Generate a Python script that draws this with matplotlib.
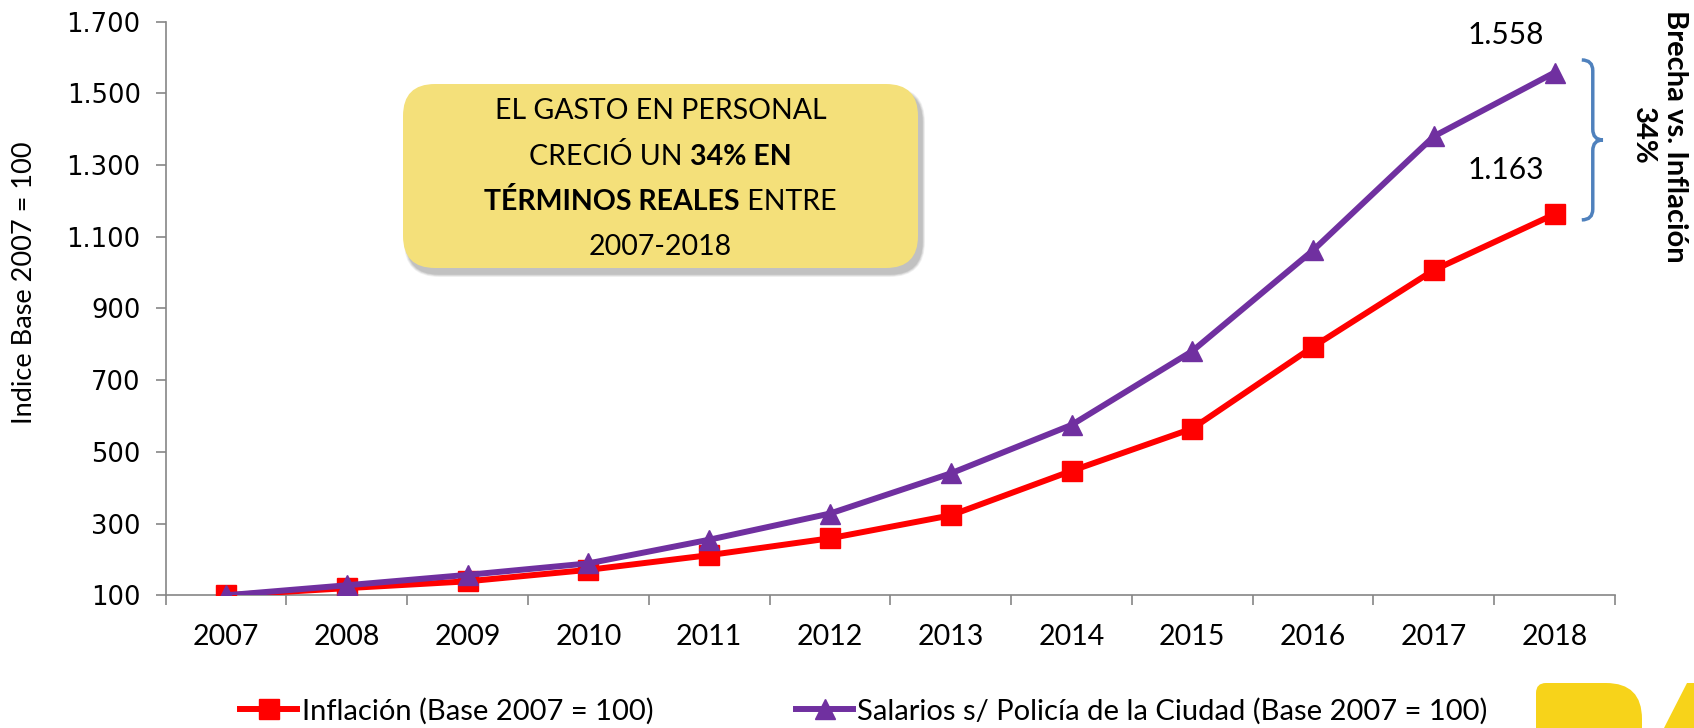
import numpy as np
import matplotlib
matplotlib.use("Agg")
import matplotlib.pyplot as plt
from matplotlib.patches import FancyBboxPatch, PathPatch, Polygon
from matplotlib.path import Path
from matplotlib.lines import Line2D
from matplotlib.transforms import IdentityTransform
from matplotlib.offsetbox import TextArea, HPacker, VPacker, AnnotationBbox
from matplotlib.ticker import FuncFormatter, FixedLocator

# Data
years = ["2007", "2008", "2009", "2010", "2011", "2012",
         "2013", "2014", "2015", "2016", "2017", "2018"]
inflacion = [100, 120, 139, 171, 212, 259, 323, 447, 565, 793, 1007, 1163]
salarios = [100, 128, 157, 189, 255, 328, 440, 575, 781, 1062, 1380, 1558]
label_inflacion = "Inflación (Base 2007 = 100)"
label_salarios = "Salarios s/ Policía de la Ciudad (Base 2007 = 100)"
y_ticks = list(range(100, 1701, 200))

RED = "#FF0000"
PURPLE = "#7030A0"
GRAY = "#868686"
BOX_YELLOW = "#F4E07A"
BRACE_BLUE = "#4F81BD"
LOGO_YELLOW = "#F7D31A"
FONT = "Lato"

W, H = 1694, 728
fig = plt.figure(figsize=(W / 100, H / 100), dpi=100)
ax = fig.add_axes([165.7 / W, 1 - 595.3 / H, (1615 - 165.7) / W, (595.3 - 21.6) / H])

x = np.arange(len(years))
ax.plot(x, inflacion, color=RED, lw=4.3, marker="s", ms=14, zorder=3)
ax.plot(x, salarios, color=PURPLE, lw=4.3, marker="^", ms=15, zorder=4)

ax.set_xlim(-0.5, len(years) - 0.5)
ax.set_ylim(100, 1700)

# axes styling
for s in ["top", "right"]:
    ax.spines[s].set_visible(False)
for s in ["left", "bottom"]:
    ax.spines[s].set_color(GRAY)
    ax.spines[s].set_linewidth(1.2)

ax.set_yticks(y_ticks)
ax.yaxis.set_major_formatter(FuncFormatter(lambda v, p: f"{v:,.0f}".replace(",", ".")))
ax.tick_params(axis="y", direction="out", length=7, width=1.2, color=GRAY,
               labelsize=18.5, pad=11)
for lab in ax.get_yticklabels():
    lab.set_fontfamily("DejaVu Sans")

ax.xaxis.set_major_locator(FixedLocator(np.arange(-0.5, len(years), 1.0)))
ax.xaxis.set_minor_locator(FixedLocator(x))
ax.set_xticklabels([], minor=False)
ax.set_xticklabels(years, minor=True, fontfamily=FONT, fontsize=20.5)
ax.tick_params(axis="x", which="major", direction="out", length=7, width=1.2, color=GRAY)
ax.tick_params(axis="x", which="minor", length=0, pad=21)

fig.text(25 / W, 1 - 283 / H, "Indice Base 2007 = 100", rotation=90,
         ha="center", va="center", fontfamily=FONT, fontsize=19.5)

# end-point value labels
ax.annotate(f"{salarios[-1]:,}".replace(",", "."), (x[-1], salarios[-1]),
            xytext=(-35, 27), textcoords="offset points", ha="center", va="center",
            fontfamily=FONT, fontsize=21.5)
ax.annotate(f"{inflacion[-1]:,}".replace(",", "."), (x[-1], inflacion[-1]),
            xytext=(-35, 32), textcoords="offset points", ha="center", va="center",
            fontfamily=FONT, fontsize=21.5)

# brace between the two end points
xa, xs, xt = 11.225, 11.316, 11.40
yt, yb = 1593, 1147
ym = (yt + yb) / 2
ry = 30
verts = [(xa, yt), (xs, yt), (xs, yt - ry),
         (xs, ym + ry),
         (xs, ym), (xt, ym),
         (xs, ym), (xs, ym - ry),
         (xs, yb + ry),
         (xs, yb), (xa, yb)]
codes = [Path.MOVETO, Path.CURVE3, Path.CURVE3,
         Path.LINETO,
         Path.CURVE3, Path.CURVE3,
         Path.CURVE3, Path.CURVE3,
         Path.LINETO,
         Path.CURVE3, Path.CURVE3]
ax.add_patch(PathPatch(Path(verts, codes), fill=False, edgecolor=BRACE_BLUE,
                       lw=2.5, capstyle="butt", zorder=5))

fig.text(1659 / W, 1 - 136 / H, "Brecha vs. Inflación\n34%", rotation=-90,
         ha="center", va="center", multialignment="center",
         fontfamily=FONT, fontsize=21, fontweight="bold", linespacing=1.25)

# yellow callout box with soft shadow
bx0, bx1, by_top, by_bot = 403, 918, 84, 268
bw, bh = bx1 - bx0, by_bot - by_top
for k, a in enumerate([0.05, 0.06, 0.07, 0.08]):
    g = 6 - k * 1.5
    fig.patches.append(FancyBboxPatch(
        (bx0 + 4 - g / 2, H - by_bot - 6 - g / 2), bw + g, bh + g,
        boxstyle=f"round,pad=0,rounding_size={32 + g / 2}",
        transform=IdentityTransform(), facecolor="black", edgecolor="none",
        alpha=a, figure=fig))
fig.patches.append(FancyBboxPatch(
    (bx0, H - by_bot), bw, bh, boxstyle="round,pad=0,rounding_size=32",
    transform=IdentityTransform(), facecolor=BOX_YELLOW, edgecolor="none", figure=fig))

norm = dict(fontfamily=FONT, fontsize=20.5, color="black")
bold = dict(fontfamily=FONT, fontsize=20.5, color="black", fontweight="bold")
lines = [
    [("EL GASTO EN PERSONAL", norm)],
    [("CRECIÓ UN ", norm), ("34% EN", bold)],
    [("TÉRMINOS REALES", bold), (" ENTRE", norm)],
    [("2007-2018", norm)],
]
rows = [HPacker(children=[TextArea(t, textprops=p) for t, p in ln], align="baseline",
                pad=0, sep=0) for ln in lines]
block = VPacker(children=rows, align="center", pad=0, sep=13.5)
fig.artists.append(AnnotationBbox(block, ((bx0 + bx1) / 2, H - (by_top + by_bot) / 2 - 3),
                                  xycoords="figure pixels", frameon=False,
                                  box_alignment=(0.5, 0.5), figure=fig))

# legend
handles = [Line2D([], [], color=RED, lw=4.3, marker="s", ms=14),
           Line2D([], [], color=PURPLE, lw=4.3, marker="^", ms=15)]
fig.legend(handles, [label_inflacion, label_salarios], loc="center",
           bbox_to_anchor=(864 / W, 1 - 711 / H), ncol=2, frameon=False,
           prop={"family": FONT, "size": 21}, handlelength=1.95,
           handletextpad=0.15, columnspacing=4.9, borderaxespad=0, borderpad=0)

# partial logo at bottom right corner
ly = H - 683
logo_verts = [(1536, -5), (1536, ly - 10), (1536, ly), (1546, ly), (1606, ly),
              (1642, ly), (1642, ly - 36), (1642, -5), (1536, -5)]
logo_codes = [Path.MOVETO, Path.LINETO, Path.CURVE3, Path.CURVE3, Path.LINETO,
              Path.CURVE3, Path.CURVE3, Path.LINETO, Path.CLOSEPOLY]
fig.patches.append(PathPatch(Path(logo_verts, logo_codes), transform=IdentityTransform(),
                             facecolor=LOGO_YELLOW, edgecolor="none", figure=fig))
fig.patches.append(Polygon([(1664, 0), (1687, ly), (1694, ly), (1694, 0)], closed=True,
                           transform=IdentityTransform(), facecolor=LOGO_YELLOW,
                           edgecolor="none", figure=fig))

fig.savefig("out.png", dpi=100)
